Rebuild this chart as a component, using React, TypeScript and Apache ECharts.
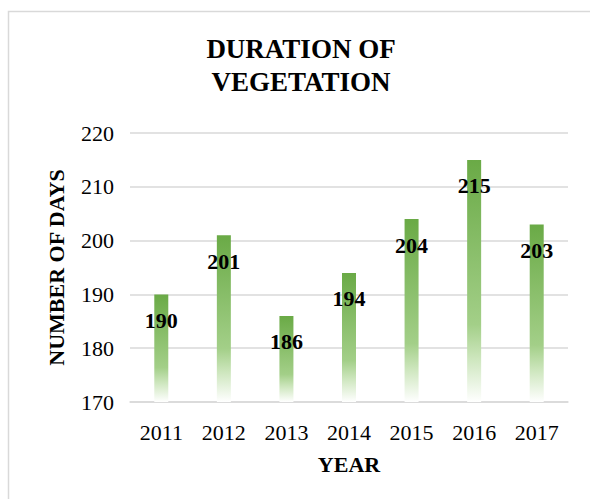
import React, { useEffect, useRef } from "react";
import * as echarts from "echarts";

const years = ["2011", "2012", "2013", "2014", "2015", "2016", "2017"];
const days = [190, 201, 186, 194, 204, 215, 203];
const titleText = "DURATION OF\nVEGETATION";
const yName = "NUMBER OF DAYS";
const xName = "YEAR";

const FONT = "'Liberation Serif', 'Times New Roman', serif";

export default function App() {
  const ref = useRef<HTMLDivElement>(null);
  useEffect(() => {
    document.body.style.margin = "0";
    const chart = echarts.init(ref.current!, undefined, { renderer: "svg" });
    chart.setOption({
      animation: false,
      backgroundColor: "#ffffff",
      title: {
        text: titleText,
        left: 296,
        textAlign: "center",
        top: 27,
        textStyle: {
          fontFamily: FONT,
          fontSize: 27,
          fontWeight: "bold",
          lineHeight: 33,
          color: "#000000",
        },
      },
      graphic: [
        {
          type: "rect",
          shape: { x: 8.5, y: 11.5, width: 620, height: 520 },
          style: { fill: "none", stroke: "#d9d9d9", lineWidth: 1.5 },
          silent: true,
          z: -1,
        },
      ],
      grid: { left: 130, right: 22, top: 133, bottom: 97 },
      xAxis: {
        type: "category",
        data: years,
        name: xName,
        nameLocation: "middle",
        nameGap: 51,
        nameTextStyle: { fontFamily: FONT, fontSize: 22, fontWeight: "bold", color: "#000" },
        axisLine: { lineStyle: { color: "#d9d9d9", width: 1.5 } },
        axisTick: { show: false },
        axisLabel: { fontFamily: FONT, fontSize: 22, color: "#000", margin: 19 },
      },
      yAxis: {
        type: "value",
        min: 170,
        max: 220,
        interval: 10,
        name: yName,
        nameLocation: "middle",
        nameGap: 63,
        nameRotate: 90,
        nameTextStyle: { fontFamily: FONT, fontSize: 22, fontWeight: "bold", color: "#000" },
        axisLine: { show: false },
        axisTick: { show: false },
        axisLabel: { fontFamily: FONT, fontSize: 22, color: "#000", margin: 16 },
        splitLine: { lineStyle: { color: "#d9d9d9", width: 1.5 } },
      },
      series: [
        {
          type: "bar",
          data: days,
          barWidth: 14,
          itemStyle: {
            color: new echarts.graphic.LinearGradient(0, 0, 0, 1, [
              { offset: 0, color: "#6aaa46" },
              { offset: 0.68, color: "#a3cf88" },
              { offset: 0.82, color: "#cde6bd" },
              { offset: 1, color: "#ffffff" },
            ]),
          },
          label: {
            show: true,
            position: "insideTop",
            distance: 15,
            fontFamily: FONT,
            fontSize: 22,
            fontWeight: "bold",
            color: "#000",
          },
        },
      ],
    });
    return () => chart.dispose();
  }, []);
  return <div ref={ref} style={{ width: 590, height: 499 }} />;
}
